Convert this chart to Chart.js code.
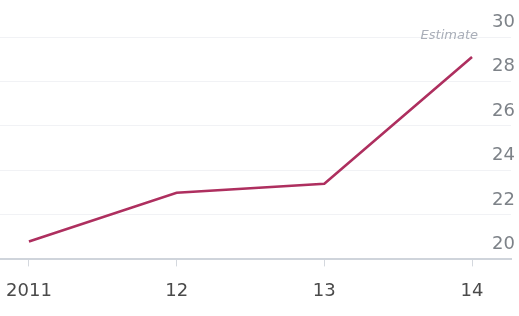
<!DOCTYPE html>
<html>
<head>
<meta charset="utf-8">
<script src="https://cdn.jsdelivr.net/npm/chart.js@4.4.0/dist/chart.umd.min.js"></script>
<style>
  html, body { margin: 0; padding: 0; background: #fff; }
  #wrap { width: 519px; height: 316px; position: relative; }
</style>
</head>
<body>
<div id="wrap"><canvas id="chart"></canvas></div>
<script>
// dati
let years = [2011, 2012, 2013, 2014];
let yearLabels = ['2011', '12', '13', '14'];
let values = [20.8, 23.0, 23.4, 29.1];
let yTicks = [20, 22, 24, 26, 28, 30];
let noteText = 'Estimate';

let lineColor = '#ae2f5f';
let fontName = "'DejaVu Sans', sans-serif";

/* scrive "Estimate" sopra l'ultimo punto */
let notePlugin = {
  id: 'note',
  afterDatasetsDraw(chart) {
    let ctx = chart.ctx;
    let x = chart.scales.x.getPixelForValue(years[years.length - 1]);
    ctx.save();
    ctx.font = 'italic 13px ' + fontName;
    ctx.fillStyle = '#a9aeb8';
    ctx.textAlign = 'right';
    ctx.textBaseline = 'middle';
    ctx.fillText(noteText, x + 6, 36);
    ctx.restore();
  }
};

new Chart('chart', {
  type: 'line',
  data: {
    datasets: [{
      data: years.map((y, i) => ({ x: y, y: values[i] })),
      borderColor: lineColor,
      borderWidth: 2.6,
      pointRadius: 0,
      tension: 0,
      fill: false
    }]
  },
  options: {
    responsive: true,
    maintainAspectRatio: false,
    animation: false,
    events: [],
    layout: { padding: { top: 37, left: 0, right: 0, bottom: 0 } },
    plugins: { legend: { display: false }, tooltip: { enabled: false } },
    scales: {
      x: {
        type: 'linear',
        min: 2010.804,
        max: 2014.264,
        afterBuildTicks: (axis) => { axis.ticks = years.map(v => ({ value: v })); },
        // niente spazio extra ai lati per le etichette
        afterFit: (axis) => { axis.paddingLeft = 0; axis.paddingRight = 0; },
        ticks: {
          callback: (v) => yearLabels[years.indexOf(v)],
          color: '#4a4a4a',
          font: { family: fontName, size: 18 },
          padding: 14,
          maxRotation: 0
        },
        grid: { drawOnChartArea: false, drawTicks: true, tickLength: 7, color: '#d4d8de' },
        border: { display: true, color: '#cfd4db', width: 2 }
      },
      y: {
        position: 'right',
        min: 20,
        max: 30,
        afterBuildTicks: (axis) => { axis.ticks = yTicks.map(v => ({ value: v })); },
        ticks: {
          mirror: true,
          labelOffset: -15,
          padding: 4,
          color: '#7d8288',
          font: { family: fontName, size: 18 }
        },
        grid: { drawTicks: false, color: '#f1f2f5' },
        border: { display: false }
      }
    }
  },
  plugins: [notePlugin]
});
</script>
</body>
</html>
